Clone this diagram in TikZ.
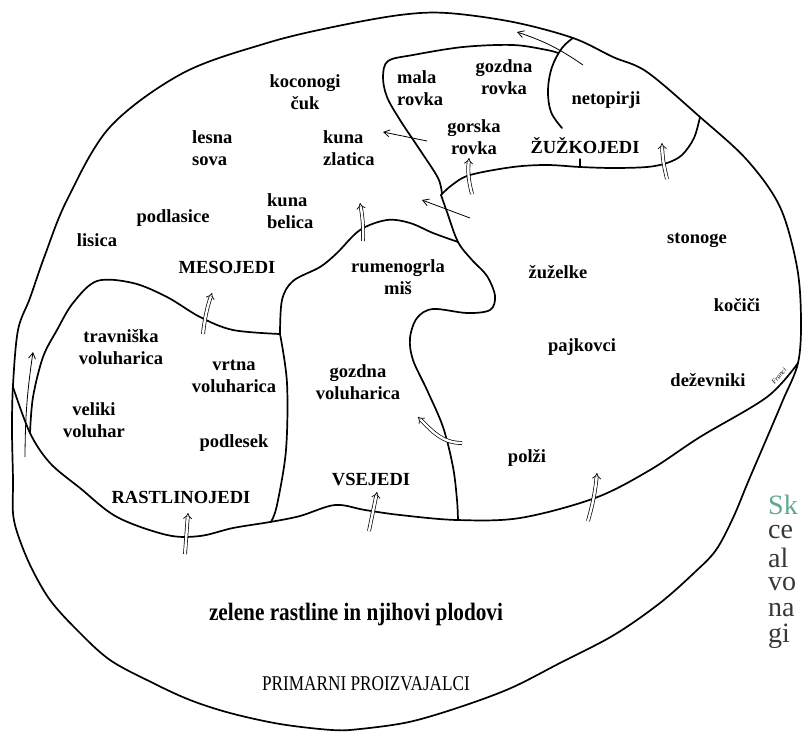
\documentclass[tikz,border=0pt]{standalone}
\usepackage{graphicx}
\usepackage{fontspec}
\setmainfont{Liberation Serif}
\usetikzlibrary{arrows.meta}
\definecolor{capgreen}{RGB}{95,170,140}
\definecolor{capgrey}{RGB}{55,55,55}
\begin{document}
\begin{tikzpicture}[x=1pt,y=-1pt,
  bnd/.style={line width=1.7pt, line cap=round, line join=round},
  lbl/.style={font=\fontsize{18.5}{22}\selectfont\bfseries, align=center, inner sep=0pt},
  lbll/.style={lbl, align=left, anchor=west},
  sarr/.style={line width=0.8pt, -{Straight Barb[length=6pt,width=7pt]}},
  darr/.style={double, double distance=2.4pt, line width=0.7pt, -{Implies}},
  captxt/.style={font=\fontsize{28}{30}\selectfont, anchor=west, inner sep=0pt, text=capgrey},
]
\useasboundingbox (0,0) rectangle (802,733);
\clip (0,0) rectangle (802,733);

% outer ellipse
\draw[bnd] plot[smooth cycle, tension=0.55] coordinates {
 (13,480) (12,430) (13,385) (18,330) (30,298) (45,255) (67,200) (110,127)
 (183,73) (267,43) (333,27) (400,15) (447,13) (513,22) (573,38) (613,57)
 (647,72) (700,117) (747,160) (780,207) (797,267) (801,320) (798,363)
 (783,400) (766,440) (748,482) (733,518) (716,550) (695,572) (660,603)
 (614,635) (560,663) (511,688) (460,707) (409,722) (360,729) (332,730)
 (280,724) (230,713) (190,700) (153,683) (110,660) (77,630) (50,600)
 (31,567) (18,535) (13,513)};

% consumers / producers boundary
\draw[bnd] plot[smooth, tension=0.55] coordinates {
 (13,387) (30,433) (50,463) (80,488) (117,517) (167,535) (200,536)
 (233,528) (270,522) (300,516) (335,505) (365,510) (400,515) (457,520)
 (520,518) (595,498) (650,470) (700,437) (767,397) (798,363)};

% herbivore region
\draw[bnd] plot[smooth, tension=0.55] coordinates {
 (30,433) (33,397) (43,357) (57,330) (73,303) (97,281) (133,283)
 (167,297) (200,317) (233,330) (280,334)};
\draw[bnd] plot[smooth, tension=0.55] coordinates {
 (280,334) (287,383) (286,450) (277,505) (271,522)};

% omnivore top
\draw[bnd] plot[smooth, tension=0.55] coordinates {
 (280,334) (282,300) (293,281) (320,267) (337,253) (360,230) (387,220)
 (410,223) (433,233) (458,242)};

% divider with bump
\draw[bnd] plot[smooth, tension=0.55] coordinates {
 (441,195) (447,212) (458,242) (472,260) (487,276) (495,296) (490,310)
 (467,313) (433,309) (417,318) (410,338) (413,360) (427,390) (443,427)
 (453,467) (457,500) (458,520)};

% shrew region left and top
\draw[bnd] plot[smooth, tension=0.55] coordinates {
 (442,194) (438,178) (420,150) (400,120) (387,97) (383,77) (388,61)
 (413,55) (463,47) (513,45) (547,50) (558,53)};

% insectivore bottom
\draw[bnd] plot[smooth, tension=0.55] coordinates {
 (441,195) (452,185) (470,175) (513,167) (547,165) (580,167) (613,168)
 (647,167) (667,163) (682,155) (694,138) (700,117)};
\draw[bnd, line width=1.2pt] (580,159) -- (580,167);

% bat arc
\draw[bnd] plot[smooth, tension=0.6] coordinates {
 (573,38) (562,48) (552,67) (548,90) (551,112) (562,128)};

% arrow end points
\coordinate (a1s) at (583,65);  \coordinate (a1e) at (517,32);
\coordinate (a2s) at (427,141); \coordinate (a2e) at (383,132);
\coordinate (a3s) at (470,218); \coordinate (a3e) at (422,200);
\coordinate (a4s) at (472,194); \coordinate (a4e) at (469,158);
\coordinate (a5s) at (667,179); \coordinate (a5e) at (662,143);
\coordinate (a6s) at (203,334); \coordinate (a6e) at (212,293);
\coordinate (a7s) at (363,241); \coordinate (a7e) at (360,203);
\coordinate (a8s) at (185,554); \coordinate (a8e) at (188,513);
\coordinate (a9s) at (369,531); \coordinate (a9e) at (377,492);
\coordinate (a10s) at (588,521); \coordinate (a10e) at (597,473);
\coordinate (a11s) at (462,443); \coordinate (a11e) at (418,417);
\coordinate (a12s) at (25,457); \coordinate (a12e) at (33,352);

\draw[sarr] (a1s) to[bend right=8] (a1e);
\draw[sarr] (a2s) -- (a2e);
\draw[sarr] (a3s) -- (a3e);
\draw[sarr] (a12s) to[bend left=4] (a12e);
\draw[darr] (a4s) to[bend left=10] (a4e);
\draw[darr] (a5s) to[bend left=6] (a5e);
\draw[darr] (a6s) to[bend left=6] (a6e);
\draw[darr] (a7s) to[bend right=6] (a7e);
\draw[darr] (a8s) -- (a8e);
\draw[darr] (a9s) -- (a9e);
\draw[darr] (a10s) to[bend right=5] (a10e);
\draw[darr] (a11s) to[out=180,in=-45] (a11e);

% labels
\node[lbl] (koconogi) at (305,92) {koconogi\\čuk};
\node[lbll] (lesna) at (192,148) {lesna\\sova};
\node[lbll] (kunaz) at (323,148) {kuna\\zlatica};
\node[lbll] (kunab) at (267,211) {kuna\\belica};
\node[lbl] (podlasice) at (173,218) {podlasice};
\node[lbl] (lisica) at (97,240) {lisica};
\node[lbl] (meso) at (227,267) {MESOJEDI};
\node[lbll] (mala) at (397,88) {mala\\rovka};
\node[lbl] (gozdnar) at (504,77) {gozdna\\rovka};
\node[lbl] (neto) at (606,100) {netopirji};
\node[lbl] (gorska) at (474,137) {gorska\\rovka};
\node[lbl] (zuzko) at (585,146) {ŽUŽKOJEDI};
\node[lbl] (stonoge) at (697,240) {stonoge};
\node[lbl] (zuzelke) at (558,272) {žuželke};
\node[lbl] (rumeno) at (398,277) {rumenogrla\\miš};
\node[lbl] (kocici) at (737,305) {kočiči};
\node[lbl] (pajk) at (582,347) {pajkovci};
\node[lbl] (dez) at (708,380) {deževniki};
\node[lbl] (polzi) at (527,458) {polži};
\node[lbl] (trav) at (121,347) {travniška\\voluharica};
\node[lbl] (vrtna) at (234,376) {vrtna\\voluharica};
\node[lbl] (veliki) at (94,420) {veliki\\voluhar};
\node[lbl] (podlesek) at (234,443) {podlesek};
\node[lbl] (gozdnav) at (358,382) {gozdna\\voluharica};
\node[lbl] (rast) at (181,497) {RASTLINOJEDI};
\node[lbl] (vsej) at (371,480) {VSEJEDI};
\node[inner sep=0pt, font=\fontsize{25}{26}\selectfont\bfseries] (zelene) at (356,614)
  {\scalebox{0.85}[1]{zelene rastline in njihovi plodovi}};
\node[inner sep=0pt, font=\fontsize{21}{22}\selectfont] (prim) at (366,684)
  {\scalebox{0.82}[1]{PRIMARNI PROIZVAJALCI}};
\node[rotate=50, inner sep=0pt, font=\fontsize{7}{7}\selectfont\itshape] (sig) at (779,376) {Franci};

% cut-off caption at the right edge
\node[captxt, text=capgreen] (c1) at (768,505) {Sk};
\node[captxt] (c2) at (768,532) {ce};
\node[captxt] (c3) at (768,558) {al};
\node[captxt] (c4) at (768,584) {vo};
\node[captxt] (c5) at (768,610) {na};
\node[captxt] (c6) at (768,636) {gi};
\end{tikzpicture}
\end{document}
